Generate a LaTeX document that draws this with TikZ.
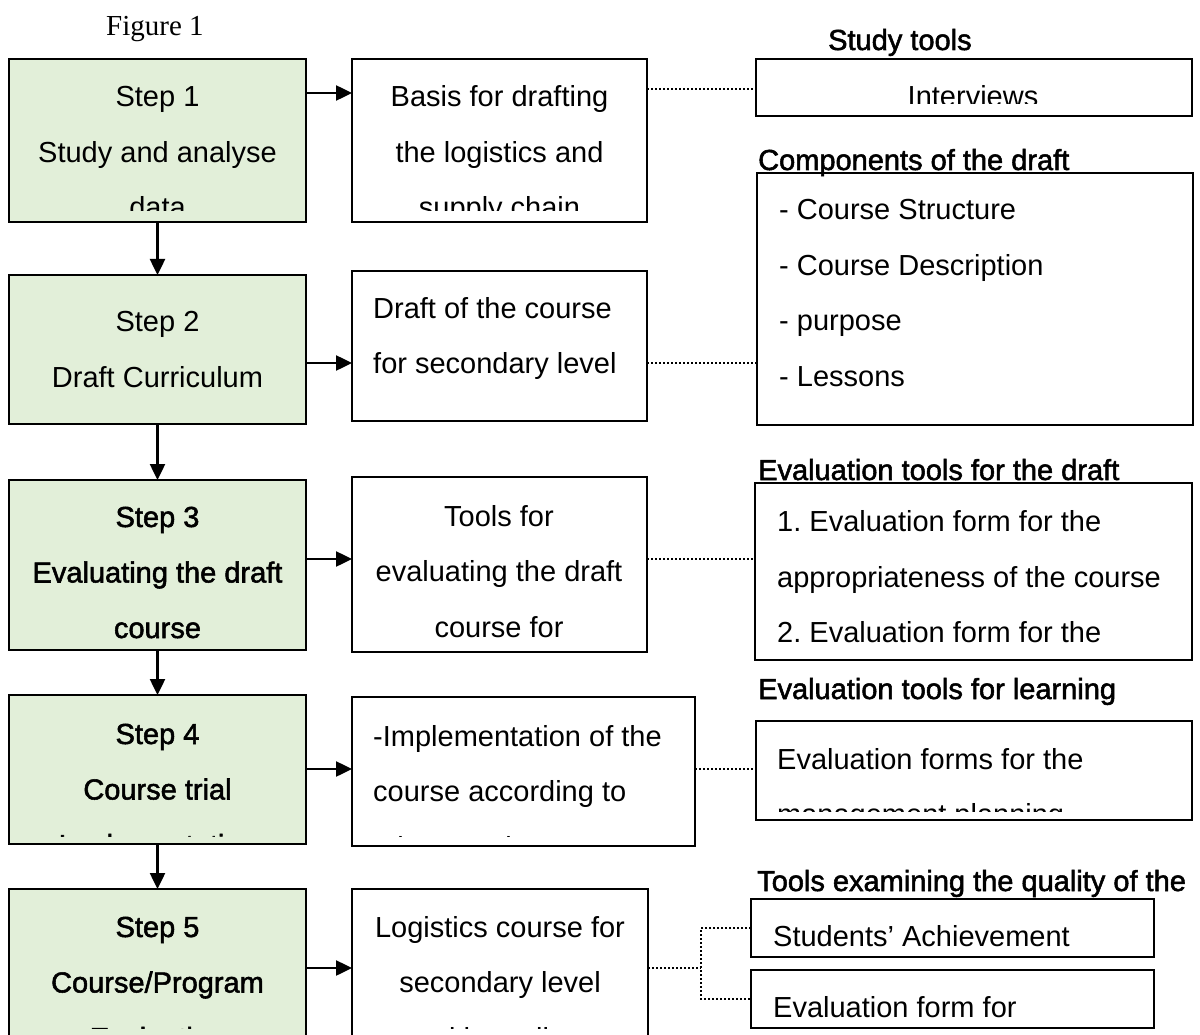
\documentclass[tikz,border=0pt]{standalone}
\usepackage{fontspec}
\setmainfont{Liberation Sans}
\newfontfamily\heavysans[FakeBold=1.8]{Liberation Sans}
\newfontfamily\figserif{Liberation Serif}
\usetikzlibrary{arrows.meta}
\definecolor{stepgreen}{RGB}{226,239,217}
\newcommand\plainsize{\fontsize{29}{55.5}\selectfont\frenchspacing}
\newcommand\cstack[1]{\begin{tabular}[t]{@{}c@{}}#1\end{tabular}}
\newcommand\lstack[1]{\begin{tabular}[t]{@{}l@{}}#1\end{tabular}}

\begin{document}
\begin{tikzpicture}[
  x=1pt,y=-1pt,
  font=\plainsize,
  stepbox/.style={draw,line width=2.5pt,fill=stepgreen,inner sep=0pt,outer sep=0pt},
  infobox/.style={draw,line width=2.5pt,fill=white,inner sep=0pt,outer sep=0pt},
  ctext/.style={anchor=base,inner sep=0pt},
  ltext/.style={anchor=base west,inner sep=0pt},
  heavy/.style={font=\heavysans\plainsize},
  head/.style={anchor=base west,inner sep=0pt,font=\heavysans\plainsize},
  flow/.style={line width=2.5pt,-{Triangle[length=16pt,width=15pt]}},
  link/.style={line width=2.5pt,dash pattern=on 2pt off 2pt}
]
\useasboundingbox (0,0) rectangle (1200,1035);
\fill[white] (0,0) rectangle (1200,1035);
\clip (0,0) rectangle (1200,1035);

\node[anchor=base west,inner sep=0pt,font=\figserif\plainsize] (fig) at (106,36) {Figure 1};

% steps
\node[stepbox,minimum width=297,minimum height=163] (s1) at (157.5,140.5) {};
\node[stepbox,minimum width=297,minimum height=149] (s2) at (157.5,349.5) {};
\node[stepbox,minimum width=297,minimum height=170] (s3) at (157.5,565) {};
\node[stepbox,minimum width=297,minimum height=149] (s4) at (157.5,769.5) {};
\node[stepbox,minimum width=297,minimum height=161] (s5) at (157.5,969.5) {};

% outputs
\node[infobox,minimum width=295,minimum height=163] (m1) at (499.5,140.5) {};
\node[infobox,minimum width=295,minimum height=150] (m2) at (499.5,346) {};
\node[infobox,minimum width=295,minimum height=175] (m3) at (499.5,564.5) {};
\node[infobox,minimum width=343,minimum height=149] (m4) at (523.5,771.5) {};
\node[infobox,minimum width=296,minimum height=161] (m5) at (500,969.5) {};

% tools
\node[infobox,minimum width=436,minimum height=57] (r1) at (974,87.5) {};
\node[infobox,minimum width=436,minimum height=252] (r2) at (975,299) {};
\node[infobox,minimum width=437,minimum height=177] (r3) at (973.5,571.5) {};
\node[infobox,minimum width=436,minimum height=99] (r4) at (974,770.5) {};
\node[infobox,minimum width=403,minimum height=58] (r5a) at (952.5,928) {};
\node[infobox,minimum width=403,minimum height=58] (r5b) at (952.5,999) {};

% texts
\begin{scope}
  \clip (s1.north west) rectangle ([yshift=11pt]s1.south east);
  \node[ctext] (s1t) at (157.5,107) {\cstack{Step 1\\Study and analyse\\data}};
\end{scope}
\node[ctext] (s2t) at (157.5,331.7) {\cstack{Step 2\\Draft Curriculum}};
\node[ctext,heavy] (s3t) at (157.5,527) {\cstack{Step 3\\Evaluating the draft\\course}};
\begin{scope}
  \clip (s4.north west) rectangle ([yshift=8pt]s4.south east);
  \node[ctext,heavy] (s4t) at (157.5,744) {\cstack{Step 4\\Course trial\\Implementation}};
\end{scope}
\begin{scope}
  \clip (s5.north west) rectangle ([yshift=22pt]s5.south east);
  \node[ctext,heavy] (s5t) at (157.5,937) {\cstack{Step 5\\Course/Program\\Evaluation}};
\end{scope}

\begin{scope}
  \clip (m1.north west) rectangle ([yshift=11pt]m1.south east);
  \node[ctext] (m1t) at (499.5,107) {\cstack{Basis for drafting\\the logistics and\\supply chain}};
\end{scope}
\node[ltext] (m2t) at (373,318) {\lstack{Draft of the course\\for secondary level}};
\node[ctext] (m3t) at (499,526) {\cstack{Tools for\\evaluating the draft\\course for}};
\begin{scope}
  \clip (m4.north west) rectangle ([yshift=10pt]m4.south east);
  \node[ltext] (m4t) at (373,746) {\lstack{-Implementation of the\\course according to\\a lesson plan}};
\end{scope}
\begin{scope}
  \clip (m5.north west) rectangle ([yshift=22pt]m5.south east);
  \node[ctext] (m5t) at (500,937) {\cstack{Logistics course for\\secondary level\\with quality}};
\end{scope}

\begin{scope}
  \clip (r1.north west) rectangle ([yshift=12pt]r1.south east);
  \node[ctext] (r1t) at (973,107) {Interviews};
\end{scope}
\node[ltext] (r2t) at (779,220) {\lstack{- Course Structure\\- Course Description\\- purpose\\- Lessons}};
\node[ltext] (r3t) at (777,531.7) {\lstack{1. Evaluation form for the\\appropriateness of the course\\2. Evaluation form for the}};
\begin{scope}
  \clip (r4.north west) rectangle ([yshift=9pt]r4.south east);
  \node[ltext] (r4t) at (777,769) {\lstack{Evaluation forms for the\\management planning}};
\end{scope}
\node[ltext] (r5at) at (773,946) {Students’ Achievement};
\node[ltext] (r5bt) at (773,1017) {Evaluation form for};

% headings
\node[head] (h1) at (828,50) {Study tools};
\node[head] (h2) at (758,170) {Components of the draft};
\node[head] (h3) at (758,480) {Evaluation tools for the draft};
\node[head] (h4) at (758,699) {Evaluation tools for learning};
\node[head] (h5) at (757,891) {Tools examining the quality of the};

% connectors
\coordinate (row1) at (0,93);
\coordinate (row2) at (0,363);
\coordinate (row3) at (0,559);
\coordinate (row4) at (0,769);
\coordinate (row5) at (0,968);
\coordinate (dot1) at (0,89);
\coordinate (fork) at (701,968);

\draw[flow] (s1.south) -- (s2.north);
\draw[flow] (s2.south) -- (s3.north);
\draw[flow] (s3.south) -- (s4.north);
\draw[flow] (s4.south) -- (s5.north);

\draw[flow] (s1.east |- row1) -- (m1.west |- row1);
\draw[flow] (s2.east |- row2) -- (m2.west |- row2);
\draw[flow] (s3.east |- row3) -- (m3.west |- row3);
\draw[flow] (s4.east |- row4) -- (m4.west |- row4);
\draw[flow] (s5.east |- row5) -- (m5.west |- row5);

\draw[link] (m1.east |- dot1) -- (r1.west |- dot1);
\draw[link] (m2.east |- row2) -- (r2.west |- row2);
\draw[link] (m3.east |- row3) -- (r3.west |- row3);
\draw[link] (m4.east |- row4) -- (r4.west |- row4);
\draw[link] (m5.east |- row5) -- (fork);
\draw[link] (r5a.west) -| (fork) |- (r5b.west);
\end{tikzpicture}
\end{document}
